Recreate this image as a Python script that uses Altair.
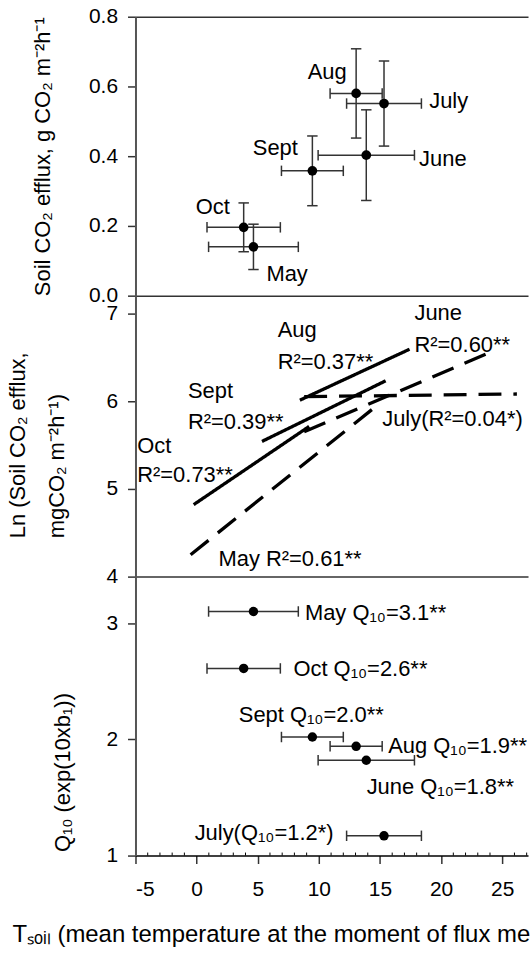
import altair as alt
import pandas as pd

# ---------------- data ----------------
months = ["May", "June", "July", "Aug", "Sept", "Oct"]
temp_mean = [4.65, 13.88, 15.33, 13.05, 9.47, 3.85]
temp_sd = [3.67, 3.94, 3.06, 2.13, 2.53, 3.00]
flux_mean = [0.140, 0.403, 0.551, 0.580, 0.358, 0.196]
flux_sd = [0.065, 0.130, 0.122, 0.128, 0.100, 0.070]
q10_vals = [3.10, 1.82, 1.17, 1.94, 2.02, 2.61]

# panel 1 month labels (data coordinates of label centres)
flux_label_x = [7.40, 20.14, 20.62, 10.68, 6.44, 1.33]
flux_label_y = [0.065, 0.396, 0.560, 0.644, 0.425, 0.257]

# panel 2 regression lines (ln flux vs temperature)
line_month = ["May", "June", "July", "Aug", "Sept", "Oct"]
line_style = ["dashed", "dashed", "dashed", "solid", "solid", "solid"]
line_x_start = [-0.49, 8.80, 8.80, 8.45, 5.35, -0.24]
line_x_end = [14.50, 24.43, 26.20, 17.42, 15.46, 9.20]
line_y_start = [4.25, 5.65, 6.05, 6.01, 5.54, 4.82]
line_y_end = [5.92, 6.58, 6.08, 6.59, 6.23, 5.71]

# panel 2 annotations (left edge x, centre y)
r2_text = ["Aug", "R²=0.37**", "June", "R²=0.60**", "Sept", "R²=0.39**",
           "Oct", "R²=0.73**", "July(R²=0.04*)", "May R²=0.61**"]
r2_x = [6.63, 6.63, 17.82, 17.82, -0.71, -0.71, -4.86, -4.86, 15.18, 1.79]
r2_y = [6.817, 6.453, 7.016, 6.652, 6.122, 5.772, 5.498, 5.166, 5.806, 4.215]

# panel 3 annotations
q10_text = ["May Q₁₀=3.1**", "June Q₁₀=1.8**", "July(Q₁₀=1.2*)",
            "Aug Q₁₀=1.9**", "Sept Q₁₀=2.0**", "Oct Q₁₀=2.6**"]
q10_label_x = [8.86, 13.91, -0.16, 15.67, 3.45, 7.92]
q10_label_y = [3.093, 1.602, 1.199, 1.955, 2.217, 2.617]

x_ticks = [-5, 0, 5, 10, 15, 20, 25]
x_minor = [v for v in range(-4, 28) if v % 5 != 0]

# ---------------- styling ----------------
FONT = "Liberation Sans"
W = 394
H1, H2, H3 = 280, 282, 280
BAR = "#333333"
xs = alt.Scale(domain=[-5, 27.11], nice=False, zero=False)
VCAP = "M0,-1L0,1"
HCAP = "M-1,0L1,0"
CAP_SIZE = 110
LINE_AX = dict(labels=False, ticks=False, title=None, domainColor="#333333", domainWidth=1.5)

df = pd.DataFrame({
    "month": months, "t": temp_mean, "tsd": temp_sd,
    "f": flux_mean, "fsd": flux_sd, "q": q10_vals,
    "lx": flux_label_x, "ly": flux_label_y,
})
df_r2 = pd.DataFrame({"txt": r2_text, "x": r2_x, "y": r2_y})
df_q = pd.DataFrame({"txt": q10_text, "x": q10_label_x, "y": q10_label_y})
rows = []
for m, s, x0, x1, y0, y1 in zip(line_month, line_style, line_x_start, line_x_end,
                                line_y_start, line_y_end):
    rows.append({"month": m, "style": s, "x": x0, "y": y0})
    rows.append({"month": m, "style": s, "x": x1, "y": y1})
df_lines = pd.DataFrame(rows)
df_minor = pd.DataFrame({"v": x_minor})

base = alt.Chart(df).transform_calculate(
    tlo="datum.t - datum.tsd", thi="datum.t + datum.tsd",
    flo="datum.f - datum.fsd", fhi="datum.f + datum.fsd",
)

# ---------------- panel 1 ----------------
ax1 = alt.Axis(values=[0, 0.2, 0.4, 0.6, 0.8], format=".1f",
               title="Soil CO₂ efflux, g CO₂ m⁻²h⁻¹",
               titleX=-93, titleY=H1 / 2, titleAngle=270,
               titleAlign="center", titleBaseline="middle")
ys1 = alt.Scale(domain=[0, 0.8], nice=False)

p1 = alt.layer(
    base.mark_rule(color=BAR, strokeWidth=1.5).encode(
        x=alt.X("tlo:Q", scale=xs, axis=alt.Axis(orient="top", **LINE_AX)), x2="thi:Q",
        y=alt.Y("f:Q", scale=ys1, axis=ax1)),
    base.mark_rule(color=BAR, strokeWidth=1.5).encode(
        x=alt.X("t:Q", scale=xs, axis=alt.Axis(orient="bottom", **LINE_AX)),
        y=alt.Y("flo:Q", scale=ys1, axis=ax1), y2="fhi:Q"),
    base.mark_point(shape=VCAP, size=CAP_SIZE, color=BAR, strokeWidth=1.5, opacity=1).encode(
        x=alt.X("tlo:Q", scale=xs, axis=None), y=alt.Y("f:Q", scale=ys1, axis=ax1)),
    base.mark_point(shape=VCAP, size=CAP_SIZE, color=BAR, strokeWidth=1.5, opacity=1).encode(
        x=alt.X("thi:Q", scale=xs, axis=None), y=alt.Y("f:Q", scale=ys1, axis=ax1)),
    base.mark_point(shape=HCAP, size=CAP_SIZE, color=BAR, strokeWidth=1.5, opacity=1).encode(
        x=alt.X("t:Q", scale=xs, axis=None), y=alt.Y("flo:Q", scale=ys1, axis=ax1)),
    base.mark_point(shape=HCAP, size=CAP_SIZE, color=BAR, strokeWidth=1.5, opacity=1).encode(
        x=alt.X("t:Q", scale=xs, axis=None), y=alt.Y("fhi:Q", scale=ys1, axis=ax1)),
    base.mark_circle(size=95, color="black", opacity=1).encode(
        x=alt.X("t:Q", scale=xs, axis=None), y=alt.Y("f:Q", scale=ys1, axis=ax1)),
    base.mark_text(align="center", baseline="middle", dy=1, color="black", clip=True).encode(
        x=alt.X("lx:Q", scale=xs, axis=None), y=alt.Y("ly:Q", scale=ys1, axis=ax1),
        text="month:N"),
).resolve_axis(x="independent").properties(width=W, height=H1)

# ---------------- panel 2 ----------------
ax2 = alt.Axis(values=[4, 5, 6, 7],
               title=["Ln (Soil CO₂ efflux,", "mgCO₂ m⁻²h⁻¹)"],
               titleX=-118, titleY=243, titleAngle=270, titleLineHeight=39,
               titleAlign="left", titleBaseline="middle")
ys2 = alt.Scale(domain=[4, 7.2], nice=False, zero=False)

p2 = alt.layer(
    alt.Chart(df_lines).mark_line(color="black", strokeWidth=3.3).encode(
        x=alt.X("x:Q", scale=xs, axis=alt.Axis(orient="bottom", **LINE_AX)),
        y=alt.Y("y:Q", scale=ys2, axis=ax2),
        detail="month:N",
        strokeDash=alt.StrokeDash("style:N", legend=None,
                                  scale=alt.Scale(domain=["solid", "dashed"],
                                                  range=[[1, 0], [23, 12]]))),
    alt.Chart(df_r2).mark_text(align="left", baseline="middle", dy=1, color="black", clip=True).encode(
        x=alt.X("x:Q", scale=xs, axis=alt.Axis(orient="bottom", **LINE_AX)),
        y=alt.Y("y:Q", scale=ys2, axis=ax2),
        text="txt:N"),
).properties(width=W, height=H2)

# ---------------- panel 3 ----------------
ax3 = alt.Axis(values=[1, 2, 3], title="Q₁₀ (exp(10xb₁))",
               titleX=-73, titleY=276, titleAngle=270,
               titleAlign="left", titleBaseline="middle")
axx = alt.Axis(values=x_ticks, labelExpr="'' + datum.value",
               title="Tₛₒᵢₗ (mean temperature at the moment of flux me",
               titleX=-124, titleY=79, titleAlign="left", titleBaseline="middle",
               titleAnchor="start", titleFontSize=24, labelPadding=15,
               domainColor="black", domainWidth=1.5)
ys3 = alt.Scale(domain=[1, 3.4], nice=False, zero=False)

base3 = alt.Chart(df).transform_calculate(
    tlo="datum.t - datum.tsd", thi="datum.t + datum.tsd")

p3 = alt.layer(
    base3.mark_rule(color=BAR, strokeWidth=1.5).encode(
        x=alt.X("tlo:Q", scale=xs, axis=axx), x2="thi:Q",
        y=alt.Y("q:Q", scale=ys3, axis=ax3)),
    base3.mark_point(shape=VCAP, size=CAP_SIZE, color=BAR, strokeWidth=1.5, opacity=1).encode(
        x=alt.X("tlo:Q", scale=xs, axis=axx), y=alt.Y("q:Q", scale=ys3, axis=ax3)),
    base3.mark_point(shape=VCAP, size=CAP_SIZE, color=BAR, strokeWidth=1.5, opacity=1).encode(
        x=alt.X("thi:Q", scale=xs, axis=axx), y=alt.Y("q:Q", scale=ys3, axis=ax3)),
    base3.mark_circle(size=90, color="black", opacity=1).encode(
        x=alt.X("t:Q", scale=xs, axis=axx), y=alt.Y("q:Q", scale=ys3, axis=ax3)),
    alt.Chart(df_q).mark_text(align="left", baseline="middle", dy=1, color="black", clip=True).encode(
        x=alt.X("x:Q", scale=xs, axis=axx), y=alt.Y("y:Q", scale=ys3, axis=ax3),
        text="txt:N"),
    alt.Chart(df_minor).mark_rule(color="black", strokeWidth=1).encode(
        x=alt.X("v:Q", scale=xs, axis=axx), y=alt.value(H3), y2=alt.value(H3 - 3)),
).properties(width=W, height=H3)

chart = alt.vconcat(p1, p2, p3, spacing=0, bounds="flush").properties(
    padding={"left": 7, "top": 4, "right": 0, "bottom": 0}
).configure_view(
    stroke=None
).configure_axis(
    labelFont=FONT, labelFontSize=21, labelColor="black",
    titleFont=FONT, titleFontSize=22, titleFontWeight="normal", titleColor="black",
    domainColor="#555555", domainWidth=2, tickColor="#333333", tickWidth=1.5,
    tickSize=8, labelPadding=10, grid=False,
).configure_text(
    font=FONT, fontSize=22
)

chart.save("out.html", embed_options={"renderer": "svg", "actions": False})
